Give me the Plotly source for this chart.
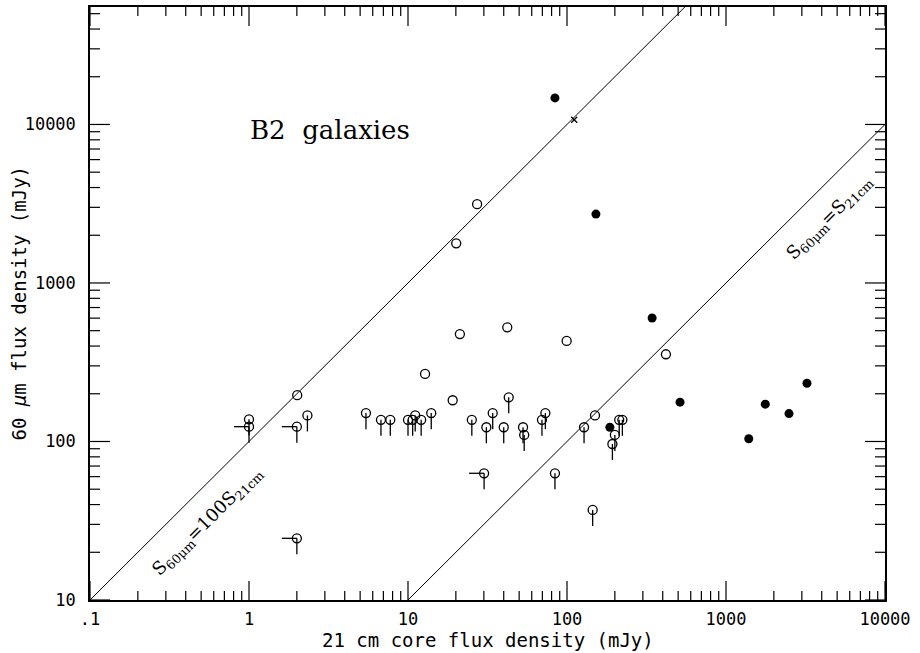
import plotly.graph_objects as go

# ---------------- data ----------------
# open circles, detections
open_x = [27.2, 20.1, 21.2, 42.1, 12.8, 19.1, 99.5, 419, 2.01, 150]
open_y = [3140, 1780, 476, 525, 267, 182, 431, 355, 196, 146]

# open circles, upper limit in 60 um only
ulim_x = [1.0, 2.33, 5.44, 6.76, 7.74, 10.0, 10.7, 11.1, 12.1, 14.0, 25.2, 31.1, 34.1,
          40.0, 43.0, 52.9, 53.8, 69.6, 73.1, 128, 200, 193, 213, 223, 84, 145]
ulim_y = [138, 146, 151, 137, 137, 137, 137, 146, 137, 151, 137, 123, 151,
          123, 190, 123, 110, 137, 151, 123, 110, 96.4, 137, 137, 63, 37]

# open circles, upper limits in both
blim_x = [1.0, 2.0, 30.1, 2.0]
blim_y = [124, 124, 63, 24.5]

# filled circles
fill_x = [84, 152, 343, 514, 1390, 1767, 2490, 3230, 186]
fill_y = [14700, 2720, 601, 177, 104, 172, 150, 233, 123]

# cross
cross_x = [111]
cross_y = [10700]

# reference lines S60 = k * S21
line_ratios = [100, 1]
line_x = [0.1, 10000]

x_tickvals = [0.1, 1, 10, 100, 1000, 10000]
x_ticktext = [".1", "1", "10", "100", "1000", "10000"]
y_tickvals = [10, 100, 1000, 10000]
y_ticktext = ["10", "100", "1000", "10000"]

X_RANGE = [-1, 4]
Y_RANGE = [1, 4.741]

# ---------------- figure ----------------
DOWN = 1.262   # length factor of the limit bars (style)
LEFT = 1.243
W, H = 920, 653
ML, MR, MT, MB = 90, 35, 7, 53
PW, PH = W - ML - MR, H - MT - MB

fig = go.Figure()

for k in line_ratios:
    fig.add_trace(go.Scatter(x=line_x, y=[k * v for v in line_x], mode="lines",
                             line=dict(color="black", width=1), hoverinfo="skip",
                             showlegend=False))

circ = dict(symbol="circle-open", size=9, color="black", line=dict(width=1.3, color="black"))

fig.add_trace(go.Scatter(x=open_x, y=open_y, mode="markers", marker=circ, showlegend=False))

fig.add_trace(go.Scatter(
    x=ulim_x, y=ulim_y, mode="markers", marker=circ, showlegend=False,
    error_y=dict(type="data", symmetric=False, array=[0] * len(ulim_y),
                 arrayminus=[v * (1 - 1 / DOWN) for v in ulim_y],
                 color="black", thickness=1.3, width=0)))

fig.add_trace(go.Scatter(
    x=blim_x, y=blim_y, mode="markers", marker=circ, showlegend=False,
    error_y=dict(type="data", symmetric=False, array=[0] * len(blim_y),
                 arrayminus=[v * (1 - 1 / DOWN) for v in blim_y],
                 color="black", thickness=1.3, width=0),
    error_x=dict(type="data", symmetric=False, array=[0] * len(blim_x),
                 arrayminus=[v * (1 - 1 / LEFT) for v in blim_x],
                 color="black", thickness=1.3, width=0)))

fig.add_trace(go.Scatter(x=fill_x, y=fill_y, mode="markers", showlegend=False,
                         marker=dict(symbol="circle", size=9, color="black")))

fig.add_trace(go.Scatter(x=cross_x, y=cross_y, mode="markers", showlegend=False,
                         marker=dict(symbol="x-thin-open", size=6, color="black",
                                     line=dict(width=1.3, color="black"))))

# ---- tick marks drawn as shapes on all four sides ----
shapes = []
def xtick(v, length):
    f = length / PH
    shapes.append(dict(type="line", xref="x", yref="y domain", x0=v, x1=v, y0=0, y1=f,
                       line=dict(color="black", width=1.2)))
    shapes.append(dict(type="line", xref="x", yref="y domain", x0=v, x1=v, y0=1, y1=1 - f,
                       line=dict(color="black", width=1.2)))
def ytick(v, length):
    f = length / PW
    shapes.append(dict(type="line", xref="x domain", yref="y", y0=v, y1=v, x0=0, x1=f,
                       line=dict(color="black", width=1.2)))
    shapes.append(dict(type="line", xref="x domain", yref="y", y0=v, y1=v, x0=1, x1=1 - f,
                       line=dict(color="black", width=1.2)))

for e in range(X_RANGE[0], X_RANGE[1] + 1):
    xtick(10 ** e, 19)
    if e < X_RANGE[1]:
        for m in range(2, 10):
            xtick(m * 10 ** e, 9)
for e in range(1, 5):
    ytick(10 ** e, 20)
    for m in range(2, 10):
        v = m * 10 ** e
        if v <= 10 ** Y_RANGE[1]:
            ytick(v, 10)

tickfont = dict(family="DejaVu Sans Mono", size=17, color="black")

fig.update_xaxes(type="log", range=X_RANGE, tickmode="array", tickvals=x_tickvals,
                 ticktext=x_ticktext, ticks="", showline=True, linecolor="black",
                 linewidth=1.5, mirror=True, showgrid=False, zeroline=False,
                 tickfont=tickfont, ticklabelstandoff=3, automargin=False)

fig.update_yaxes(type="log", range=Y_RANGE, tickmode="array", tickvals=y_tickvals,
                 ticktext=y_ticktext, ticks="", showline=True, linecolor="black",
                 linewidth=1.5, mirror=True, showgrid=False, zeroline=False,
                 tickfont=tickfont, ticklabelstandoff=9, automargin=False)

titlefont = dict(family="DejaVu Sans Mono", size=19, color="black")
fig.add_annotation(x=0.5, y=0, xref="paper", yref="paper", yanchor="middle",
                   yshift=-40, showarrow=False, text="21 cm core flux density (mJy)",
                   font=titlefont)
fig.add_annotation(x=0, y=0.5, xref="paper", yref="paper", xanchor="center",
                   xshift=-72, showarrow=False, textangle=-90,
                   text="60 <i>μ</i>m flux density (mJy)", font=titlefont)

fig.add_annotation(x=-0.264, y=1.492, xref="x", yref="y", showarrow=False,
                   text="S<sub>60μm</sub>=100S<sub>21cm</sub>", textangle=-45,
                   font=dict(family="DejaVu Serif", size=18, color="black"))
fig.add_annotation(x=3.648, y=3.410, xref="x", yref="y", showarrow=False,
                   text="S<sub>60μm</sub>=S<sub>21cm</sub>", textangle=-45,
                   font=dict(family="DejaVu Serif", size=18, color="black"))
fig.add_annotation(x=0.509, y=3.965, xref="x", yref="y", showarrow=False, xanchor="center",
                   text="B2  galaxies",
                   font=dict(family="DejaVu Serif", size=26, color="black"))

fig.update_layout(width=W, height=H, margin=dict(l=ML, r=MR, t=MT, b=MB),
                  plot_bgcolor="white", paper_bgcolor="white", shapes=shapes)

fig.write_html("out.html", config={"displayModeBar": False},
               post_script="document.body.style.margin='0';document.body.style.overflow='hidden';")
